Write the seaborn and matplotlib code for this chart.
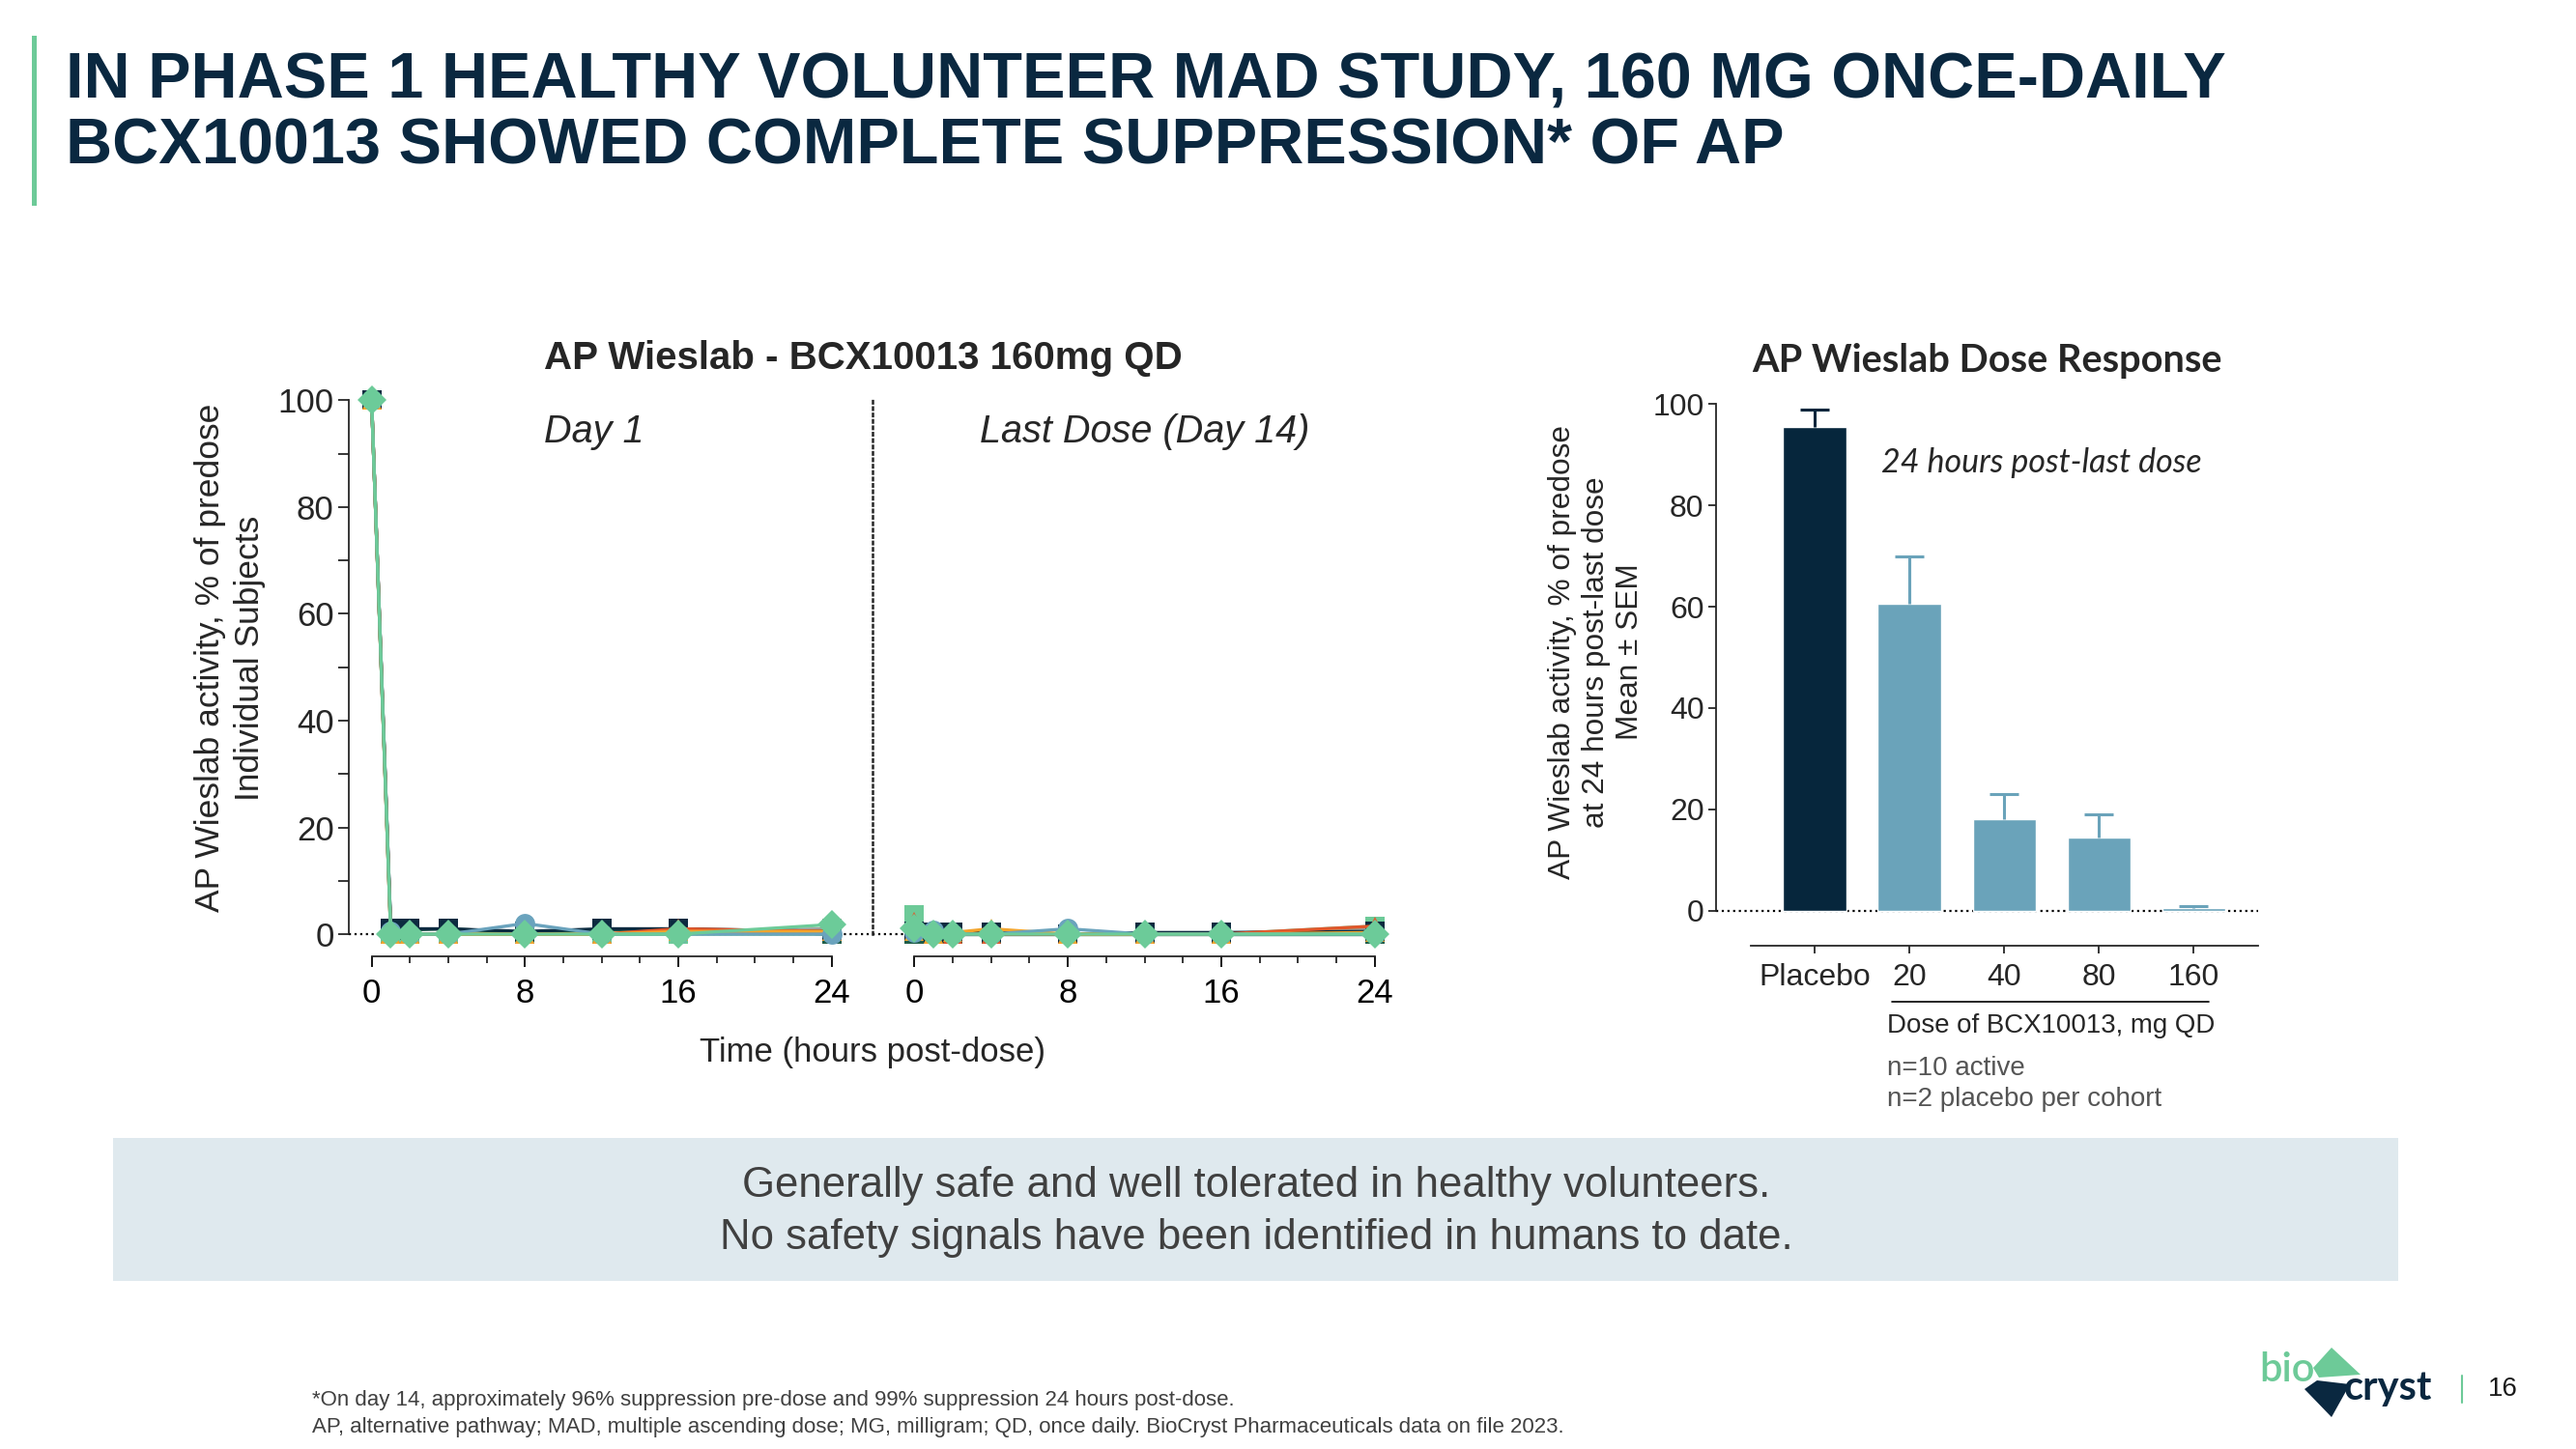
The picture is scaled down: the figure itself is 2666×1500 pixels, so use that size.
import numpy as np
import pandas as pd
import matplotlib
matplotlib.use("Agg")
import matplotlib.pyplot as plt
from matplotlib.patches import Rectangle, Polygon
from matplotlib.ticker import MultipleLocator
import seaborn as sns

W, H = 2666, 1500

# ---- data: individual subjects, 160 mg QD ----
times = [0, 1, 2, 4, 8, 12, 16, 24]
subjects = ["gray_sq", "mint_sq", "green_sq", "navy_sq", "red_tri", "orange_tri", "blue_ci", "mint_di"]
day1 = {
    "gray_sq":    [100, 0.0, 0.0, 0.0, 0.0, 0.0, 0.5, 1.0],
    "mint_sq":    [100, 0.0, 0.0, 0.0, 0.0, 0.0, 0.0, 0.0],
    "green_sq":   [100, 1.0, 0.8, 1.0, 0.3, 0.8, 1.0, 0.0],
    "navy_sq":    [100, 1.0, 1.0, 1.0, 0.5, 1.0, 1.0, 0.5],
    "red_tri":    [100, 0.0, 0.0, 0.0, 0.0, 0.0, 1.0, 0.5],
    "orange_tri": [100, 0.0, 0.0, 0.0, 0.0, 0.0, 0.5, 0.5],
    "blue_ci":    [100, 0.5, 0.0, 0.0, 2.0, 0.0, 0.0, 0.0],
    "mint_di":    [100, 0.0, 0.0, 0.0, 0.0, 0.0, 0.0, 1.8],
}
day14 = {
    "gray_sq":    [0.0, 0.0, 0.0, 0.0, 0.0, 0.0, 0.0, 1.0],
    "mint_sq":    [3.7, 0.0, 0.0, 0.0, 0.0, 0.0, 0.0, 1.5],
    "green_sq":   [0.0, 0.0, 0.0, 0.0, 0.0, 0.0, 0.0, 0.0],
    "navy_sq":    [0.5, 0.3, 0.3, 0.3, 0.0, 0.3, 0.3, 0.5],
    "red_tri":    [2.3, 0.0, 0.0, 0.0, 0.0, 0.0, 0.0, 1.5],
    "orange_tri": [0.5, 0.0, 0.3, 1.0, 0.0, 0.0, 0.0, 0.3],
    "blue_ci":    [0.3, 0.7, 0.0, 0.0, 1.0, 0.0, 0.0, 0.0],
    "mint_di":    [1.0, 0.0, 0.0, 0.0, 0.0, 0.0, 0.0, 0.0],
}
subject_colors = {
    "gray_sq": "#9c9c9c", "mint_sq": "#6dca98", "green_sq": "#1f5d48", "navy_sq": "#0c2b40",
    "red_tri": "#e2572b", "orange_tri": "#f4a52c", "blue_ci": "#6aa3bd", "mint_di": "#6ccb99",
}
subject_markers = {
    "gray_sq": "s", "mint_sq": "s", "green_sq": "s", "navy_sq": "s",
    "red_tri": "^", "orange_tri": "^", "blue_ci": "o", "mint_di": "D",
}

# ---- data: dose response ----
dose_labels = ["Placebo", "20", "40", "80", "160"]
dose_mean = [95.5, 60.5, 18.0, 14.5, 0.5]
dose_sem = [3.5, 9.5, 5.0, 4.5, 0.3]
bar_colors = ["#06263c", "#6aa3ba", "#6aa3ba", "#6aa3ba", "#6aa3ba"]

NAVY = "#0a2840"
MINT = "#6dca98"


def box(x0, y0, x1, y1):
    return [x0 / W, 1 - y1 / H, (x1 - x0) / W, (y1 - y0) / H]


def fx(x):
    return x / W


def fy(y):
    return 1 - y / H


def long_df(d):
    rows = []
    for s in subjects:
        for t, v in zip(times, d[s]):
            rows.append({"subject": s, "time": t, "value": v})
    return pd.DataFrame(rows)


sns.set_theme(style="ticks")
plt.rcParams["font.family"] = ["Liberation Sans", "DejaVu Sans"]
plt.rcParams["axes.linewidth"] = 1.3

fig = plt.figure(figsize=(W / 100, H / 100), dpi=100)
fig.patch.set_facecolor("white")

# ---- slide header ----
fig.patches.append(Rectangle((fx(33), fy(213)), 5 / W, 176 / H, transform=fig.transFigure,
                             color=MINT, lw=0))
fig.text(fx(68), fy(102), "IN PHASE 1 HEALTHY VOLUNTEER MAD STUDY, 160 MG ONCE-DAILY",
         fontsize=48, fontweight="bold", color=NAVY, va="baseline")
fig.text(fx(68), fy(170), "BCX10013 SHOWED COMPLETE SUPPRESSION* OF AP",
         fontsize=48, fontweight="bold", color=NAVY, va="baseline")

# ---- left: individual subjects ----
ax1 = fig.add_axes(box(361, 403.4, 903, 990))
ax2 = fig.add_axes(box(903, 403.4, 1440, 990))
ylim = (-4.16, 102)

for ax, d, xl in [(ax1, day1, (-1.19, 26.13)), (ax2, day14, (-2.17, 24.86))]:
    df = long_df(d)
    sns.lineplot(data=df, x="time", y="value", hue="subject", style="subject",
                 hue_order=subjects, style_order=subjects, palette=subject_colors,
                 markers=subject_markers, dashes=False, estimator=None, legend=False,
                 markersize=15, markeredgewidth=0, linewidth=2.4, ax=ax, clip_on=False)
    ax.set_xlim(*xl)
    ax.set_ylim(*ylim)
    ax.set_xlabel("")
    ax.set_ylabel("")
    ax.spines["top"].set_visible(False)
    ax.spines["right"].set_visible(False)
    ax.spines["bottom"].set_bounds(0, 24)
    ax.set_xticks([0, 8, 16, 24])
    ax.set_xticks(list(range(0, 25, 2)), minor=True)
    ax.tick_params(axis="x", which="major", length=8, width=1.3, labelsize=25, pad=8, colors="black")
    ax.tick_params(axis="x", which="minor", length=5, width=1.3)
    ax.patch.set_alpha(0)

ax1.axhline(0, color="black", ls=":", lw=1.6, zorder=0)
ax1.spines["left"].set_bounds(0, 100)
ax1.yaxis.set_major_locator(MultipleLocator(20))
ax1.yaxis.set_minor_locator(MultipleLocator(10))
ax1.tick_params(axis="y", which="major", length=8, width=1.3, labelsize=25, pad=3)
ax1.tick_params(axis="y", which="minor", length=8, width=1.3)

ax2.spines["left"].set_bounds(0, 100)
ax2.spines["left"].set_linestyle(":")
ax2.spines["left"].set_linewidth(1.8)
ax2.tick_params(axis="y", which="both", left=False, labelleft=False)
ax2.axhline(0, xmin=0, xmax=0.07, color="black", ls=":", lw=1.6, zorder=0)

fig.text(fx(893), fy(371), "AP Wieslab - BCX10013 160mg QD", fontsize=29, fontweight="bold",
         ha="center", va="center")
fig.text(fx(615), fy(447), "Day 1", fontsize=28.5, style="italic", ha="center", va="center")
fig.text(fx(1185), fy(447), "Last Dose (Day 14)", fontsize=28.5, style="italic", ha="center", va="center")
fig.text(fx(903), fy(1090), "Time (hours post-dose)", fontsize=25, ha="center", va="center")
fig.text(fx(238), fy(681), "AP Wieslab activity, % of predose\nIndividual Subjects", fontsize=25.5,
         rotation=90, ha="center", va="center", multialignment="center", linespacing=1.3)

# ---- right: dose response ----
ax3 = fig.add_axes(box(1776, 408, 2337, 978.7))
sns.barplot(x=dose_labels, y=dose_mean, hue=dose_labels, palette=bar_colors, width=0.665,
            saturation=1, legend=False, ax=ax3, errorbar=None)
for i, (m, s, c) in enumerate(zip(dose_mean, dose_sem, bar_colors)):
    _, caps, _ = ax3.errorbar(i, m, yerr=[[0], [s]], fmt="none", ecolor=c, elinewidth=2.2,
                              capsize=11, capthick=2.2, zorder=3)
    for cap in caps:
        if np.allclose(cap.get_ydata(), m):
            cap.set_visible(False)
ax3.axhline(0, color="black", ls=":", lw=1.6, zorder=0.5)
ax3.set_xlim(-1.04, 4.68)
ax3.set_ylim(-6.9, 102)
ax3.spines["top"].set_visible(False)
ax3.spines["right"].set_visible(False)
ax3.spines["left"].set_bounds(0, 100)
ax3.spines["bottom"].set_bounds(-0.67, 4.68)
ax3.yaxis.set_major_locator(MultipleLocator(20))
ax3.tick_params(axis="y", length=6, width=1.3, labelsize=23, pad=3)
ax3.tick_params(axis="x", length=6, width=1.3, labelsize=23, pad=7)
ax3.set_xlabel("")
ax3.set_ylabel("")

fig.text(fx(2056), fy(374), "AP Wieslab Dose Response", fontsize=28.6, fontweight="bold",
         family=["Lato", "DejaVu Sans"], ha="center", va="center")
fig.text(fx(1947), fy(479), "24 hours post-last dose", fontsize=24.5, style="italic",
         family=["Lato", "DejaVu Sans"], ha="left", va="center")
fig.text(fx(1652), fy(675), "AP Wieslab activity, % of predose\nat 24 hours post-last dose\nMean \u00b1 SEM",
         fontsize=22.8, rotation=90, ha="center", va="center", multialignment="center", linespacing=1.2)
fig.lines.append(plt.Line2D([fx(1958), fx(2286)], [fy(1037), fy(1037)], transform=fig.transFigure,
                            color="black", lw=1.2))
fig.text(fx(1953), fy(1062), "Dose of BCX10013, mg QD", fontsize=19.9, ha="left", va="center")
fig.text(fx(1953), fy(1106), "n=10 active", fontsize=20, color="#555555", ha="left", va="center")
fig.text(fx(1953), fy(1138), "n=2 placebo per cohort", fontsize=20, color="#555555", ha="left", va="center")

# ---- banner ----
fig.patches.append(Rectangle((fx(117), fy(1326)), (2482 - 117) / W, (1326 - 1178) / H,
                             transform=fig.transFigure, color="#dfe9ee", lw=0))
fig.text(fx(1300), fy(1228), "Generally safe and well tolerated in healthy volunteers.",
         fontsize=31.5, color="#404040", ha="center", va="center")
fig.text(fx(1300), fy(1282), "No safety signals have been identified in humans to date.",
         fontsize=31.5, color="#404040", ha="center", va="center")

# ---- footer ----
fig.text(fx(323), fy(1450), "*On day 14, approximately 96% suppression pre-dose and 99% suppression 24 hours post-dose.",
         fontsize=16, color="#404040", ha="left", va="center")
fig.text(fx(323), fy(1477), "AP, alternative pathway; MAD, multiple ascending dose; MG, milligram; QD, once daily. "
         "BioCryst Pharmaceuticals data on file 2023.",
         fontsize=16, color="#404040", ha="left", va="center")

# ---- logo ----
green_pts = [(2413, 1395), (2443, 1423), (2400, 1426), (2394, 1416)]
navy_pts = [(2385, 1438), (2398, 1429), (2432, 1433), (2413, 1467)]
fig.patches.append(Polygon([(fx(x), fy(y)) for x, y in green_pts], closed=True,
                           transform=fig.transFigure, color=MINT, lw=0))
fig.patches.append(Polygon([(fx(x), fy(y)) for x, y in navy_pts], closed=True,
                           transform=fig.transFigure, color=NAVY, lw=0))
fig.text(fx(2338), fy(1418), "bio", fontsize=30, color=MINT, family=["Lato", "DejaVu Sans"],
         fontweight="semibold", ha="left", va="center")
fig.text(fx(2426), fy(1437), "cryst", fontsize=30, color=NAVY, family=["Lato", "DejaVu Sans"],
         fontweight="bold", ha="left", va="center")
fig.lines.append(plt.Line2D([fx(2548), fx(2548)], [fy(1424), fy(1452)], transform=fig.transFigure,
                            color=MINT, lw=1.5))
fig.text(fx(2575), fy(1438), "16", fontsize=20, color="#1a1a1a", ha="left", va="center")

fig.savefig("out.png", dpi=100, facecolor="white")
